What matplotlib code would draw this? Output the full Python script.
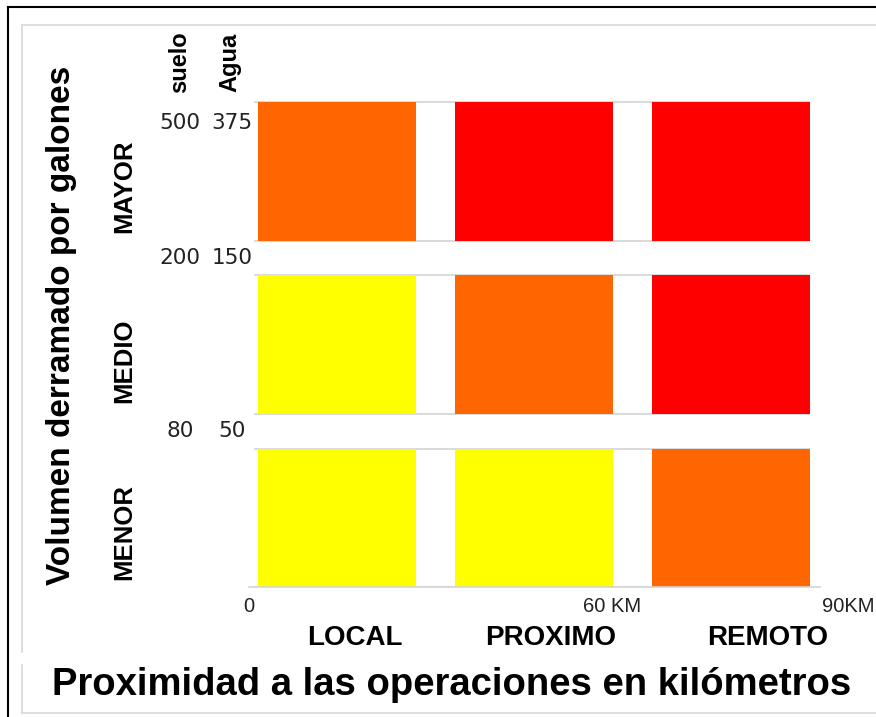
import matplotlib
matplotlib.use("Agg")
import matplotlib.pyplot as plt
from matplotlib.lines import Line2D
import matplotlib.transforms as mtransforms

# datos del gráfico
filas = ["MENOR", "MEDIO", "MAYOR"]
columnas = ["LOCAL", "PROXIMO", "REMOTO"]
# 0 = amarillo, 1 = naranja, 2 = rojo
nivel = [
    [0, 0, 1],  # MENOR
    [0, 1, 2],  # MEDIO
    [1, 2, 2],  # MAYOR
]
suelo = ["80", "200", "500"]
agua = ["50", "150", "375"]
km_etiquetas = ["0", "60 KM", "90KM"]

colores = ["#FFFF00", "#FF6600", "#FF0000"]
W, H = 876, 717


def f(x, y):
    # pixeles -> fraccion de figura
    return x / W, 1 - y / H


fig = plt.figure(figsize=(W / 100, H / 100), dpi=100)
ax = fig.add_axes([0.2837, 0.1813, 0.6522, 0.7001])

for i, fila in enumerate(filas):
    for j, col in enumerate(columnas):
        ax.bar(j, 0.8, bottom=i - 0.4, width=0.8, color=colores[nivel[i][j]],
               edgecolor="none", zorder=2)
    ax.hlines([i - 0.4, i + 0.4], -0.42, 2.4, color="#d4d4d4", lw=1.2, zorder=1)

ax.set_xlim(-0.45, 2.45)
ax.set_ylim(-0.4, 2.5)
for s in ["top", "right", "left"]:
    ax.spines[s].set_visible(False)
ax.spines["bottom"].set_color("#d4d4d4")
ax.spines["bottom"].set_linewidth(1.2)
ax.set_xticks([])
ax.set_yticks([])

# etiquetas del eje y (suelo / agua)
tr = mtransforms.blended_transform_factory(fig.transFigure, ax.transData)
pos_y = [0.5, 1.5, 2.28]
for k in range(3):
    ax.text(180 / W, pos_y[k], suelo[k], transform=tr, ha="center", va="center",
            fontsize=15.5, color="#222222", family="DejaVu Sans")
    ax.text(232 / W, pos_y[k], agua[k], transform=tr, ha="center", va="center",
            fontsize=15.5, color="#222222", family="DejaVu Sans")

fuente = "Liberation Sans"
fig.text(*f(180, 62), "suelo", rotation=90, ha="center", va="center",
         fontsize=17, fontweight="bold", family=fuente)
fig.text(*f(230, 62), "Agua", rotation=90, ha="center", va="center",
         fontsize=17, fontweight="bold", family=fuente)

# nombres de filas
for txt, yy in zip(filas, [532, 361, 186]):
    fig.text(*f(124, yy), txt, rotation=90, ha="center", va="center",
             fontsize=18.5, fontweight="bold", family=fuente)

fig.text(*f(62, 325), "Volumen derramado por galones", rotation=90,
         ha="center", va="center", fontsize=24, fontweight="bold", family=fuente)

# eje x
for txt, xx in zip(km_etiquetas, [249, 612, 848]):
    fig.text(*f(xx, 607), txt, ha="center", va="center", fontsize=14.5,
             color="#222222", family=fuente)
for txt, xx in zip(columnas, [355, 551, 768]):
    fig.text(*f(xx, 638), txt, ha="center", va="center", fontsize=20,
             fontweight="bold", family=fuente)

fig.text(*f(452, 685), "Proximidad a las operaciones en kilómetros",
         ha="center", va="center", fontsize=27.5, fontweight="bold", family=fuente)

# marcos
gris = "#d8d8d8"
lineas = [
    ((22, 22), (25, 652), gris), ((22, 22), (665, 713), gris),
    ((22, 876), (25, 25), gris), ((22, 876), (713, 713), gris),
    ((8, 8), (7, 717), "black"), ((8, 876), (7, 7), "black"),
]
for xs, ys, c in lineas:
    fig.add_artist(Line2D([x / W for x in xs], [1 - y / H for y in ys],
                          color=c, lw=1.5 if c == "black" else 1.2,
                          transform=fig.transFigure))

fig.savefig("out.png", dpi=100)
